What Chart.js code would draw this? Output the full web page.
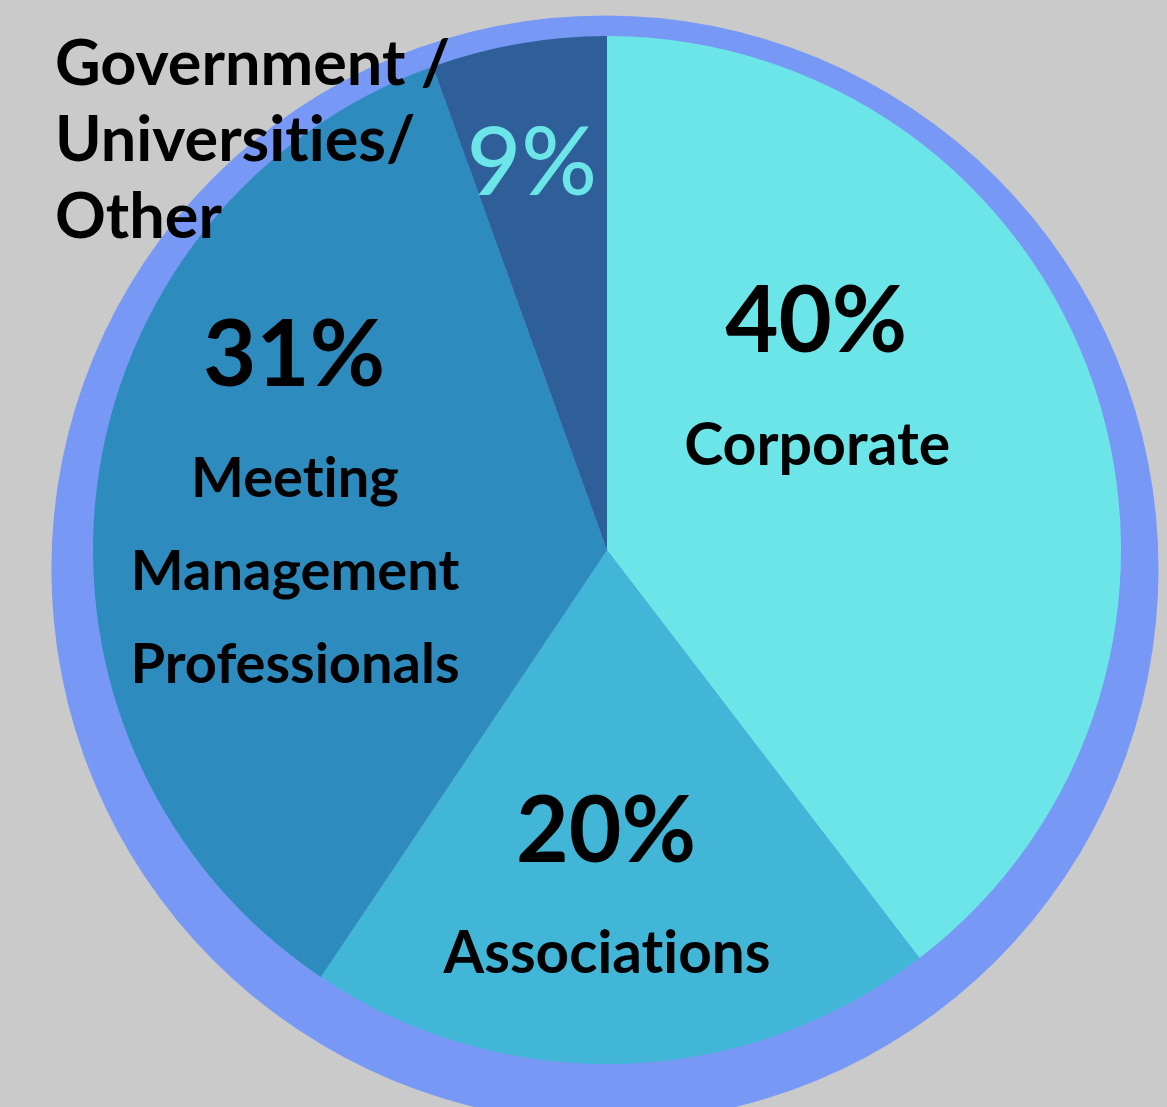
<!DOCTYPE html>
<html>
<head>
<meta charset="utf-8">
<script src="https://cdn.jsdelivr.net/npm/chart.js@4/dist/chart.umd.min.js"></script>
<style>
  html, body { margin: 0; padding: 0; background: #cacaca; }
  #wrap { width: 1167px; height: 1107px; position: relative; }
</style>
</head>
<body>
<div id="wrap"><canvas id="pieChart"></canvas></div>
<script>
// data (slice sizes as drawn, labels as printed)
let categories = ['Corporate', 'Associations', 'Meeting Management Professionals', 'Government / Universities/ Other'];
let shares = [39.6, 19.8, 35.1, 5.5];
let percentLabels = ['40%', '20%', '31%', '9%'];
let sliceColors = ['#6ce5e8', '#42b6d6', '#2d8bbd', '#2e5f98'];

// label layout, offsets in units of the pie radius from its centre
let labelLayout = [
  { pct: [0.407, -0.385], pctSize: 92, name: ['Corporate'], nameAt: [0.409, -0.165], nameSize: 59, step: 0 },
  { pct: [-0.002, 0.607], pctSize: 91, name: ['Associations'], nameAt: [0, 0.823], nameSize: 58.5, step: 0 },
  { pct: [-0.609, -0.319], pctSize: 92, name: ['Meeting', 'Management', 'Professionals'], nameAt: [-0.607, -0.103], nameSize: 56, step: 0.181 },
  { pct: [-0.146, -0.691], pctSize: 94, pctColor: '#6ce5e8', pctWeight: '500', name: ['Government /', 'Universities/', 'Other'], nameAt: [-1.074, -0.905], nameSize: 63, step: 0.149, align: 'left' }
];

// break the Lato "ti" ligature, the original has plain letters
function noLig(s) {
  return s.replace(/t(?=i)/g, 't\u200C');
}

// outer ring behind the pie (slightly lower than the pie itself)
let ringPlugin = {
  id: 'ring',
  beforeDatasetsDraw(chart) {
    let arc = chart.getDatasetMeta(0).data[0];
    if (!arc) return;
    let r = arc.outerRadius, ctx = chart.ctx;
    ctx.save();
    ctx.fillStyle = '#7799f5';
    ctx.beginPath();
    ctx.arc(arc.x - 0.004 * r, arc.y + 0.037 * r, 1.077 * r, 0, Math.PI * 2);
    ctx.fill();
    ctx.restore();
  }
};

let labelPlugin = {
  id: 'sliceLabels',
  afterDatasetsDraw(chart) {
    let arc = chart.getDatasetMeta(0).data[0];
    if (!arc) return;
    let cx = arc.x, cy = arc.y, r = arc.outerRadius, ctx = chart.ctx;
    ctx.save();
    ctx.textBaseline = 'alphabetic';
    labelLayout.forEach((l, i) => {
      ctx.textAlign = 'center';
      ctx.fillStyle = l.pctColor || '#000';
      ctx.font = (l.pctWeight || 'bold') + ' ' + l.pctSize + 'px Lato';
      ctx.fillText(percentLabels[i], cx + l.pct[0] * r, cy + l.pct[1] * r);
      ctx.fillStyle = '#000';
      ctx.textAlign = l.align || 'center';
      ctx.font = 'bold ' + l.nameSize + 'px Lato';
      l.name.forEach((line, j) => {
        ctx.fillText(noLig(line), cx + l.nameAt[0] * r, cy + (l.nameAt[1] + j * l.step) * r);
      });
    });
    ctx.restore();
  }
};

let config = {
  type: 'pie',
  data: {
    labels: categories,
    datasets: [{ data: shares, backgroundColor: sliceColors, borderWidth: 0 }]
  },
  options: {
    responsive: true,
    maintainAspectRatio: false,
    animation: false,
    layout: { padding: { left: 93, right: 46, top: 36, bottom: 43 } },
    plugins: { legend: { display: false }, tooltip: { enabled: false } }
  },
  plugins: [ringPlugin, labelPlugin]
};

let ctx = document.getElementById('pieChart').getContext('2d');
let pieChart = new Chart(ctx, config);
</script>
</body>
</html>
